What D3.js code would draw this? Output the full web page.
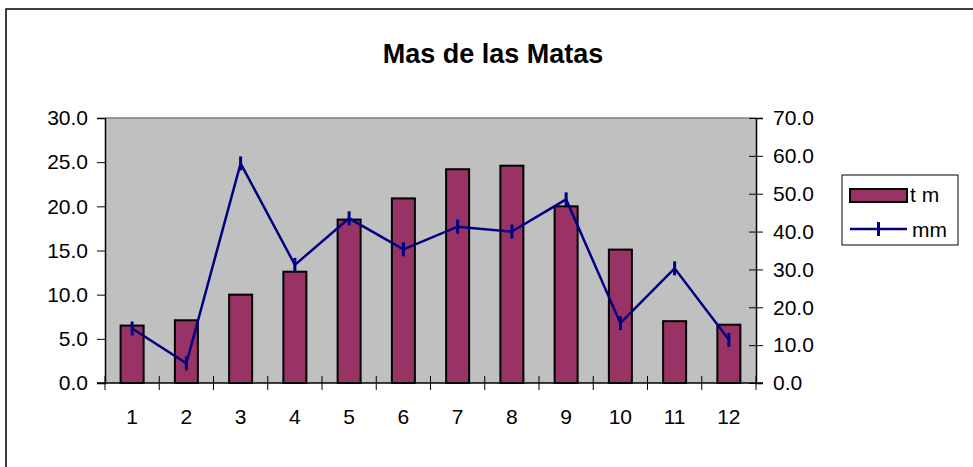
<!DOCTYPE html>
<html>
<head>
<meta charset="utf-8">
<script src="https://cdn.jsdelivr.net/npm/d3@7"></script>
<style>
  body { margin: 0; background: #fff; }
  text { font-family: "Liberation Sans", Arial, sans-serif; }
</style>
</head>
<body>
<div id="chart"></div>
<script>
const title = "Mas de las Matas"
const months = [1, 2, 3, 4, 5, 6, 7, 8, 9, 10, 11, 12]
const tm = [6.5, 7.1, 10.0, 12.6, 18.5, 20.9, 24.2, 24.6, 20.0, 15.1, 7.0, 6.6]
const mm = [14.4, 5.2, 58.0, 31.2, 43.5, 35.3, 41.3, 40.0, 48.5, 15.8, 30.3, 11.4]
const leftTicks = [0, 5, 10, 15, 20, 25, 30]
const rightTicks = [0, 10, 20, 30, 40, 50, 60, 70]
const seriesNames = ["t m", "mm"]

const W = 973, H = 467
const plot = {left: 105, right: 756, top: 118, bottom: 383}
const bar_color = "#993366", line_color = "#000080", font_size = 21

const svg = d3.select("#chart").append("svg")
    .attr("width", W).attr("height", H)

// outer frame
svg.append("rect")
    .attr("x", 6).attr("y", 9)
    .attr("width", W + 10).attr("height", H + 10)
    .attr("fill", "white").attr("stroke", "black").attr("stroke-width", 1.5)

svg.append("text")
    .attr("x", 493).attr("y", 63)
    .attr("text-anchor", "middle")
    .attr("font-size", 27).attr("font-weight", "bold")
    .text(title)

const x = d3.scaleBand()
    .domain(months)
    .range([plot.left, plot.right])
    .paddingInner(0.576).paddingOuter(0.288)

const yL = d3.scaleLinear().domain([0, 30]).range([plot.bottom, plot.top])
const yR = d3.scaleLinear().domain([0, 70]).range([plot.bottom, plot.top])

// plot background
svg.append("rect")
    .attr("x", plot.left).attr("y", plot.top)
    .attr("width", plot.right - plot.left).attr("height", plot.bottom - plot.top)
    .attr("fill", "#c0c0c0")
svg.append("line")
    .attr("x1", plot.left).attr("x2", plot.right)
    .attr("y1", plot.top).attr("y2", plot.top)
    .attr("stroke", "#808080").attr("stroke-width", 1.5)

// bars
svg.append("g").selectAll("rect")
    .data(tm)
    .join("rect")
    .attr("x", (d, i) => x(months[i]))
    .attr("y", d => yL(d))
    .attr("width", x.bandwidth())
    .attr("height", d => yL(0) - yL(d))
    .attr("fill", bar_color)
    .attr("stroke", "black").attr("stroke-width", 2)

// left axis
const axL = svg.append("g")
    .attr("transform", `translate(${plot.left},0)`)
    .call(d3.axisLeft(yL).tickValues(leftTicks).tickSize(8).tickPadding(9).tickFormat(d3.format(".1f")))
axL.select(".domain").attr("stroke", "black").attr("stroke-width", 1.5)
axL.selectAll("text").attr("font-size", font_size).attr("fill", "black")
    .attr("font-family", "Liberation Sans, Arial, sans-serif")

// right axis
const axR = svg.append("g")
    .attr("transform", `translate(${plot.right},0)`)
    .call(d3.axisRight(yR).tickValues(rightTicks).tickSize(7).tickPadding(10).tickFormat(d3.format(".1f")))
axR.select(".domain").attr("stroke", "black").attr("stroke-width", 1.5)
axR.selectAll(".tick line").attr("x1", -7)
axR.selectAll("text").attr("font-size", font_size).attr("fill", "black")
    .attr("font-family", "Liberation Sans, Arial, sans-serif")

// bottom axis
const step = x.step()
const bounds = d3.range(months.length + 1).map(i => plot.left + i * step)
svg.append("line")
    .attr("x1", plot.left - 8).attr("x2", plot.right + 7)
    .attr("y1", plot.bottom).attr("y2", plot.bottom)
    .attr("stroke", "black").attr("stroke-width", 1.5)
svg.append("g").selectAll("line")
    .data(bounds)
    .join("line")
    .attr("x1", d => d).attr("x2", d => d)
    .attr("y1", plot.bottom - 7).attr("y2", plot.bottom + 7)
    .attr("stroke", "black").attr("stroke-width", 1)
svg.append("g").selectAll("text")
    .data(months)
    .join("text")
    .attr("x", d => x(d) + x.bandwidth() / 2)
    .attr("y", 424)
    .attr("text-anchor", "middle")
    .attr("font-size", font_size)
    .text(d => d)

// line series
const line = d3.line()
    .x((d, i) => x(months[i]) + x.bandwidth() / 2)
    .y(d => yR(d))
svg.append("path")
    .datum(mm)
    .attr("d", line)
    .attr("fill", "none")
    .attr("stroke", line_color).attr("stroke-width", 2.5)
svg.append("g").selectAll("line")
    .data(mm)
    .join("line")
    .attr("x1", (d, i) => x(months[i]) + x.bandwidth() / 2)
    .attr("x2", (d, i) => x(months[i]) + x.bandwidth() / 2)
    .attr("y1", d => yR(d) - 7).attr("y2", d => yR(d) + 7)
    .attr("stroke", line_color).attr("stroke-width", 3)

// legend
const lg = svg.append("g")
lg.append("rect")
    .attr("x", 842).attr("y", 175).attr("width", 116).attr("height", 70)
    .attr("fill", "white").attr("stroke", "black").attr("stroke-width", 1)
lg.append("rect")
    .attr("x", 850).attr("y", 189).attr("width", 57).attr("height", 13)
    .attr("fill", bar_color).attr("stroke", "black").attr("stroke-width", 2)
lg.append("line")
    .attr("x1", 850).attr("x2", 907).attr("y1", 229).attr("y2", 229)
    .attr("stroke", line_color).attr("stroke-width", 2.5)
lg.append("line")
    .attr("x1", 878.5).attr("x2", 878.5).attr("y1", 222).attr("y2", 236)
    .attr("stroke", line_color).attr("stroke-width", 3)
lg.selectAll("text.lbl")
    .data(seriesNames)
    .join("text")
    .attr("class", "lbl")
    .attr("x", (d, i) => i === 0 ? 910 : 912)
    .attr("y", (d, i) => i === 0 ? 202 : 237)
    .attr("font-size", font_size)
    .text(d => d)
</script>
</body>
</html>
